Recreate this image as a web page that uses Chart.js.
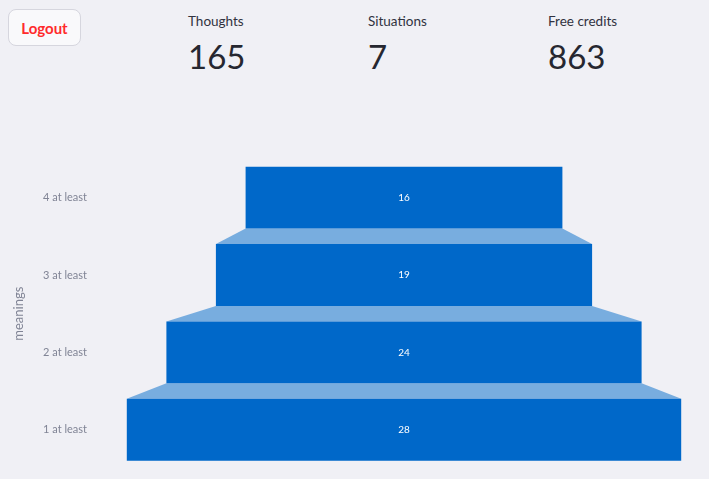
<!DOCTYPE html>
<html>
<head>
<meta charset="utf-8">
<script src="https://cdn.jsdelivr.net/npm/chart.js@4"></script>
<style>
  html, body { margin:0; padding:0; background:#f0f0f5; width:709px; height:479px; overflow:hidden; font-family:"Source Sans Pro", Lato, "Noto Sans", sans-serif; }
  #logout { position:absolute; left:8px; top:9px; width:73px; height:37px; box-sizing:border-box; border:1px solid #d6d6de; border-radius:8px; background:#f9f9fb; color:#ff2b2b; font-weight:700; font-size:15px; display:flex; align-items:center; justify-content:center; }
  .metric { position:absolute; top:11px; color:#31333f; }
  .metric .lbl { font-size:13.5px; line-height:20px; }
  .metric .val { font-size:33px; line-height:44px; margin-top:3px; color:#262730; }
  #wrap { position:absolute; left:0; top:140px; width:709px; height:347px; }
  #wrap canvas { display:block; }
</style>
</head>
<body>
<div id="logout">Logout</div>
<div id="metrics"></div>
<div id="wrap"><canvas id="c"></canvas></div>
<script>
const metricLabels = ['Thoughts', 'Situations', 'Free credits'];
const metricValues = [165, 7, 863];
const categories = ['4 at least', '3 at least', '2 at least', '1 at least'];
const counts = [16, 19, 24, 28];
const axisTitle = 'meanings';

const metricLefts = [188, 368, 548];
const mEl = document.getElementById('metrics');
metricLabels.forEach((l, i) => {
  const d = document.createElement('div');
  d.className = 'metric';
  d.style.left = metricLefts[i] + 'px';
  d.innerHTML = '<div class="lbl"></div><div class="val"></div>';
  d.querySelector('.lbl').textContent = l;
  d.querySelector('.val').textContent = metricValues[i];
  mEl.appendChild(d);
});

const BAR = '#0068c9';
const CONN = '#78addf';

const funnelPlugin = {
  id: 'funnel',
  beforeDatasetsDraw(chart) {
    const ctx = chart.ctx;
    const xs = chart.scales.x;
    const meta = chart.getDatasetMeta(0);
    ctx.save();
    ctx.fillStyle = CONN;
    for (let i = 0; i < counts.length - 1; i++) {
      const a = meta.data[i], b = meta.data[i + 1];
      const topY = a.y + a.height / 2;
      const botY = b.y - b.height / 2;
      ctx.beginPath();
      ctx.moveTo(xs.getPixelForValue(-counts[i] / 2), topY);
      ctx.lineTo(xs.getPixelForValue(counts[i] / 2), topY);
      ctx.lineTo(xs.getPixelForValue(counts[i + 1] / 2), botY);
      ctx.lineTo(xs.getPixelForValue(-counts[i + 1] / 2), botY);
      ctx.closePath();
      ctx.fill();
    }
    ctx.restore();
  },
  afterDatasetsDraw(chart) {
    const ctx = chart.ctx;
    const meta = chart.getDatasetMeta(0);
    ctx.save();
    ctx.fillStyle = '#ffffff';
    ctx.font = '10px "Source Sans Pro", Lato, "Noto Sans", sans-serif';
    ctx.textAlign = 'center';
    ctx.textBaseline = 'middle';
    meta.data.forEach((el, i) => {
      ctx.fillText(String(counts[i]), (el.x + el.base) / 2, el.y);
    });
    ctx.restore();
  }
};

new Chart(document.getElementById('c'), {
  type: 'bar',
  data: {
    labels: categories,
    datasets: [{
      data: counts.map(v => [-v / 2, v / 2]),
      backgroundColor: BAR,
      borderWidth: 0,
      barPercentage: 0.8,
      categoryPercentage: 1.0
    }]
  },
  options: {
    indexAxis: 'y',
    responsive: true,
    maintainAspectRatio: false,
    animation: false,
    layout: { padding: { top: 19, bottom: 10, left: 0, right: 8 } },
    plugins: { legend: { display: false }, tooltip: { enabled: false } },
    scales: {
      x: { display: false, min: -15, max: 15 },
      y: {
        grid: { display: false },
        border: { display: false },
        ticks: { color: '#808495', padding: 12, font: { size: 11, family: '"Source Sans Pro", Lato, "Noto Sans", sans-serif' } },
        title: { display: true, text: axisTitle, color: '#808495', padding: { top: 11, bottom: 0 }, font: { size: 13, family: '"Source Sans Pro", Lato, "Noto Sans", sans-serif' } },
        afterFit(axis) { axis.width = 107; }
      }
    }
  },
  plugins: [funnelPlugin]
});
</script>
</body>
</html>
